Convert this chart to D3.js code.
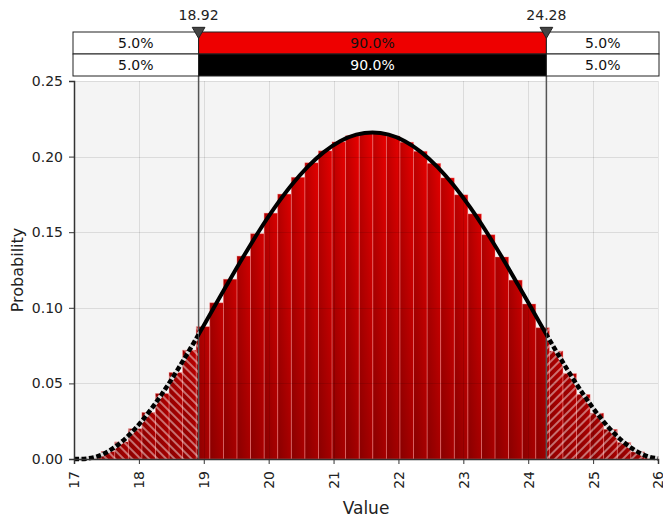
<!DOCTYPE html>
<html>
<head>
<meta charset="utf-8">
<script src="https://cdn.jsdelivr.net/npm/d3@7"></script>
<style>
  body { margin: 0; background: #fff; }
  svg { display: block; font-family: "DejaVu Sans", Verdana, sans-serif; }
</style>
</head>
<body>
<svg></svg>
<script>
const width = 663;
const height = 520;

// histogram: 43 equal bins between 17 and 26
const binRange = [17, 26];
const binValues = [
  0.0000, 0.0012, 0.0049, 0.0113, 0.0200, 0.0308, 0.0433, 0.0572, 0.0720, 0.0875,
  0.1033, 0.1189, 0.1342, 0.1490, 0.1626, 0.1752, 0.1863, 0.1959, 0.2038, 0.2097,
  0.2138, 0.2158, 0.2157, 0.2136, 0.2095, 0.2035, 0.1955, 0.1859, 0.1747, 0.1621,
  0.1483, 0.1336, 0.1183, 0.1025, 0.0868, 0.0714, 0.0565, 0.0427, 0.0303, 0.0196,
  0.0109, 0.0047, 0.0011
];

// fitted density curve
const curveX = [17.0, 17.1, 17.35, 17.6, 17.85, 18.1, 18.35, 18.6, 18.85, 19.1, 19.35, 19.6,
  19.85, 20.1, 20.35, 20.6, 20.85, 21.1, 21.35, 21.6, 21.85, 22.1, 22.35, 22.6, 22.85,
  23.1, 23.35, 23.6, 23.85, 24.1, 24.35, 24.6, 24.85, 25.1, 25.35, 25.6, 25.85, 26.0];
const curveY = [0.0, 0.0, 0.0016, 0.0070, 0.0159, 0.0280, 0.0427, 0.0593, 0.0772, 0.0959, 0.1147, 0.1331,
  0.1506, 0.1667, 0.1810, 0.1932, 0.2030, 0.2102, 0.2145, 0.2160, 0.2145, 0.2102, 0.2030, 0.1932, 0.1810,
  0.1667, 0.1506, 0.1331, 0.1147, 0.0959, 0.0772, 0.0593, 0.0427, 0.0280, 0.0159, 0.0070, 0.0016, 0.0003];

// delimiters and the probability bands above the chart
const markers = [18.92, 24.28];
const bandTop = ["5.0%", "90.0%", "5.0%"];
const bandBottom = ["5.0%", "90.0%", "5.0%"];

const xTicks = [17, 18, 19, 20, 21, 22, 23, 24, 25, 26];
const yTicks = [0, 0.05, 0.10, 0.15, 0.20, 0.25];

const plot = { left: 74, right: 658, top: 81, bottom: 459 };

const svg = d3.select("svg")
    .attr("width", width)
    .attr("height", height);

const x = d3.scaleLinear().domain([17, 26]).range([plot.left, plot.right]);
const y = d3.scaleLinear().domain([0, 0.25]).range([plot.bottom, plot.top]);

const defs = svg.append("defs");

// bar colours: bright at top, darker at bottom
const fillGrad = defs.append("linearGradient")
    .attr("id", "barFill")
    .attr("gradientUnits", "userSpaceOnUse")
    .attr("x1", 0).attr("x2", 0)
    .attr("y1", plot.top).attr("y2", plot.bottom);
fillGrad.append("stop").attr("offset", "0%").attr("stop-color", "#f40000");
fillGrad.append("stop").attr("offset", "100%").attr("stop-color", "#a60000");

// each bar a bit darker on its left side
const shadeGrad = defs.append("linearGradient")
    .attr("id", "barShade")
    .attr("x1", 0).attr("x2", 1).attr("y1", 0).attr("y2", 0);
shadeGrad.append("stop").attr("offset", "0%").attr("stop-color", "#000").attr("stop-opacity", 0.18);
shadeGrad.append("stop").attr("offset", "100%").attr("stop-color", "#000").attr("stop-opacity", 0);

// hatching for the tails
function hatch(id, angle) {
  const p = defs.append("pattern")
      .attr("id", id)
      .attr("patternUnits", "userSpaceOnUse")
      .attr("width", 6).attr("height", 6)
      .attr("patternTransform", `rotate(${angle})`);
  p.append("line")
      .attr("x1", 3).attr("x2", 3).attr("y1", 0).attr("y2", 6)
      .attr("stroke", "#fff")
      .attr("stroke-opacity", 0.55)
      .attr("stroke-width", 1.6);
}
hatch("hatchLeft", -45);
hatch("hatchRight", 45);

defs.append("clipPath").attr("id", "clipLeft").append("rect")
    .attr("x", x(17) - 3).attr("y", 0)
    .attr("width", x(markers[0]) - x(17) + 3).attr("height", height);
defs.append("clipPath").attr("id", "clipMid").append("rect")
    .attr("x", x(markers[0])).attr("y", 0)
    .attr("width", x(markers[1]) - x(markers[0])).attr("height", height);
defs.append("clipPath").attr("id", "clipRight").append("rect")
    .attr("x", x(markers[1])).attr("y", 0)
    .attr("width", x(26) - x(markers[1]) + 3).attr("height", height);

// plot background
svg.append("rect")
    .attr("x", plot.left).attr("y", plot.top)
    .attr("width", plot.right - plot.left)
    .attr("height", plot.bottom - plot.top)
    .attr("fill", "#f4f4f4");

// bars
const binW = (binRange[1] - binRange[0]) / binValues.length;
const bins = binValues.map((v, i) => ({ x0: binRange[0] + i * binW, x1: binRange[0] + (i + 1) * binW, v }));

const bars = svg.append("g");
bars.selectAll(".bar")
    .data(bins)
    .enter().append("rect")
    .attr("class", "bar")
    .attr("x", d => x(d.x0))
    .attr("width", d => x(d.x1) - x(d.x0))
    .attr("y", d => y(d.v))
    .attr("height", d => y(0) - y(d.v))
    .attr("fill", "url(#barFill)");
bars.selectAll(".shade")
    .data(bins)
    .enter().append("rect")
    .attr("class", "shade")
    .attr("x", d => x(d.x0))
    .attr("width", d => x(d.x1) - x(d.x0))
    .attr("y", d => y(d.v))
    .attr("height", d => y(0) - y(d.v))
    .attr("fill", "url(#barShade)")
    .attr("stroke", "rgba(255,130,130,0.45)")
    .attr("stroke-width", 0.8);

// hatched tails
[["clipLeft", "hatchLeft"], ["clipRight", "hatchRight"]].forEach(([clip, pat]) => {
  svg.append("g")
      .attr("clip-path", `url(#${clip})`)
      .selectAll("rect")
      .data(bins)
      .enter().append("rect")
      .attr("x", d => x(d.x0))
      .attr("width", d => x(d.x1) - x(d.x0))
      .attr("y", d => y(d.v))
      .attr("height", d => y(0) - y(d.v))
      .attr("fill", `url(#${pat})`);
});

// grid lines on top of the bars
const grid = svg.append("g").attr("stroke", "rgba(0,0,0,0.1)").attr("stroke-width", 1);
grid.selectAll(".gy")
    .data(yTicks.filter(d => d > 0))
    .enter().append("line")
    .attr("x1", plot.left).attr("x2", plot.right)
    .attr("y1", d => Math.round(y(d)) + 0.5)
    .attr("y2", d => Math.round(y(d)) + 0.5);
grid.selectAll(".gx")
    .data(xTicks.filter(d => d > 17))
    .enter().append("line")
    .attr("y1", plot.top).attr("y2", plot.bottom)
    .attr("x1", d => Math.round(x(d)) + 0.5)
    .attr("x2", d => Math.round(x(d)) + 0.5);

// delimiter lines
svg.selectAll(".marker-line")
    .data(markers)
    .enter().append("line")
    .attr("class", "marker-line")
    .attr("x1", d => x(d)).attr("x2", d => x(d))
    .attr("y1", 30).attr("y2", plot.bottom)
    .attr("stroke", "#555")
    .attr("stroke-width", 1.5);

// density curve
const points = curveX.map((v, i) => [v, curveY[i]]);
const line = d3.line()
    .x(d => x(d[0]))
    .y(d => y(d[1]))
    .curve(d3.curveMonotoneX);

svg.append("path")
    .attr("d", line(points))
    .attr("clip-path", "url(#clipMid)")
    .attr("fill", "none")
    .attr("stroke", "#000")
    .attr("stroke-width", 4)
    .attr("stroke-linejoin", "round");

["clipLeft", "clipRight"].forEach(clip => {
  svg.append("path")
      .attr("d", line(points))
      .attr("clip-path", `url(#${clip})`)
      .attr("fill", "none")
      .attr("stroke", "#ddd")
      .attr("stroke-width", 4);
  svg.append("path")
      .attr("d", line(points))
      .attr("clip-path", `url(#${clip})`)
      .attr("fill", "none")
      .attr("stroke", "#000")
      .attr("stroke-width", 4.5)
      .attr("stroke-dasharray", "5,2.5");
});

// axes
const yAxis = svg.append("g")
    .attr("transform", `translate(${plot.left},0)`)
    .call(d3.axisLeft(y).tickValues(yTicks).tickFormat(d3.format(".2f")).tickSize(5).tickPadding(6));
const xAxis = svg.append("g")
    .attr("transform", `translate(0,${plot.bottom})`)
    .call(d3.axisBottom(x).tickValues(xTicks).tickFormat(d3.format("d")).tickSize(5));

[yAxis, xAxis].forEach(a => {
  a.select(".domain").attr("stroke", "#333").attr("stroke-width", 1.5);
  a.selectAll(".tick line").attr("stroke", "#333");
  a.selectAll("text").attr("font-size", 14).attr("fill", "#222")
      .attr("font-family", "\"DejaVu Sans\", Verdana, sans-serif");
});

xAxis.selectAll("text")
    .attr("transform", "rotate(-90)")
    .attr("text-anchor", "end")
    .attr("x", -12)
    .attr("y", 0)
    .attr("dy", "0.35em");

svg.append("text")
    .attr("x", (plot.left + plot.right) / 2)
    .attr("y", 514)
    .attr("text-anchor", "middle")
    .attr("font-size", 17)
    .attr("fill", "#222")
    .text("Value");

svg.append("text")
    .attr("transform", `translate(23,${(plot.top + plot.bottom) / 2}) rotate(-90)`)
    .attr("text-anchor", "middle")
    .attr("font-size", 16)
    .attr("fill", "#222")
    .text("Probability");

// probability bands above the plot
const bandX = [17, markers[0], markers[1], 26];
const rows = [
  { labels: bandTop, y0: 32, mid: "#ee0000", text: "#111" },
  { labels: bandBottom, y0: 54, mid: "#000", text: "#fff" }
];
rows.forEach(r => {
  r.labels.forEach((lab, i) => {
    const x0 = i === 0 ? x(bandX[0]) - 1 : x(bandX[i]);
    const x1 = i === 2 ? x(bandX[3]) + 1 : x(bandX[i + 1]);
    svg.append("rect")
        .attr("x", x0).attr("y", r.y0)
        .attr("width", x1 - x0).attr("height", 22)
        .attr("fill", i === 1 ? r.mid : "#fff")
        .attr("stroke", "#222")
        .attr("stroke-width", 1);
    svg.append("text")
        .attr("x", (x0 + x1) / 2)
        .attr("y", r.y0 + 16)
        .attr("text-anchor", "middle")
        .attr("font-size", 14)
        .attr("fill", i === 1 ? r.text : "#111")
        .text(lab);
  });
});

// delimiter triangles and values
const tri = d3.symbol().type(d3.symbolTriangle).size(70);
svg.selectAll(".marker-tri")
    .data(markers)
    .enter().append("path")
    .attr("class", "marker-tri")
    .attr("d", tri)
    .attr("transform", d => `translate(${x(d)},31) rotate(180)`)
    .attr("fill", "#444")
    .attr("stroke", "#222");

svg.selectAll(".marker-label")
    .data(markers)
    .enter().append("text")
    .attr("class", "marker-label")
    .attr("x", d => x(d))
    .attr("y", 20)
    .attr("text-anchor", "middle")
    .attr("font-size", 14)
    .attr("fill", "#222")
    .text(d => d.toFixed(2));
</script>
</body>
</html>
